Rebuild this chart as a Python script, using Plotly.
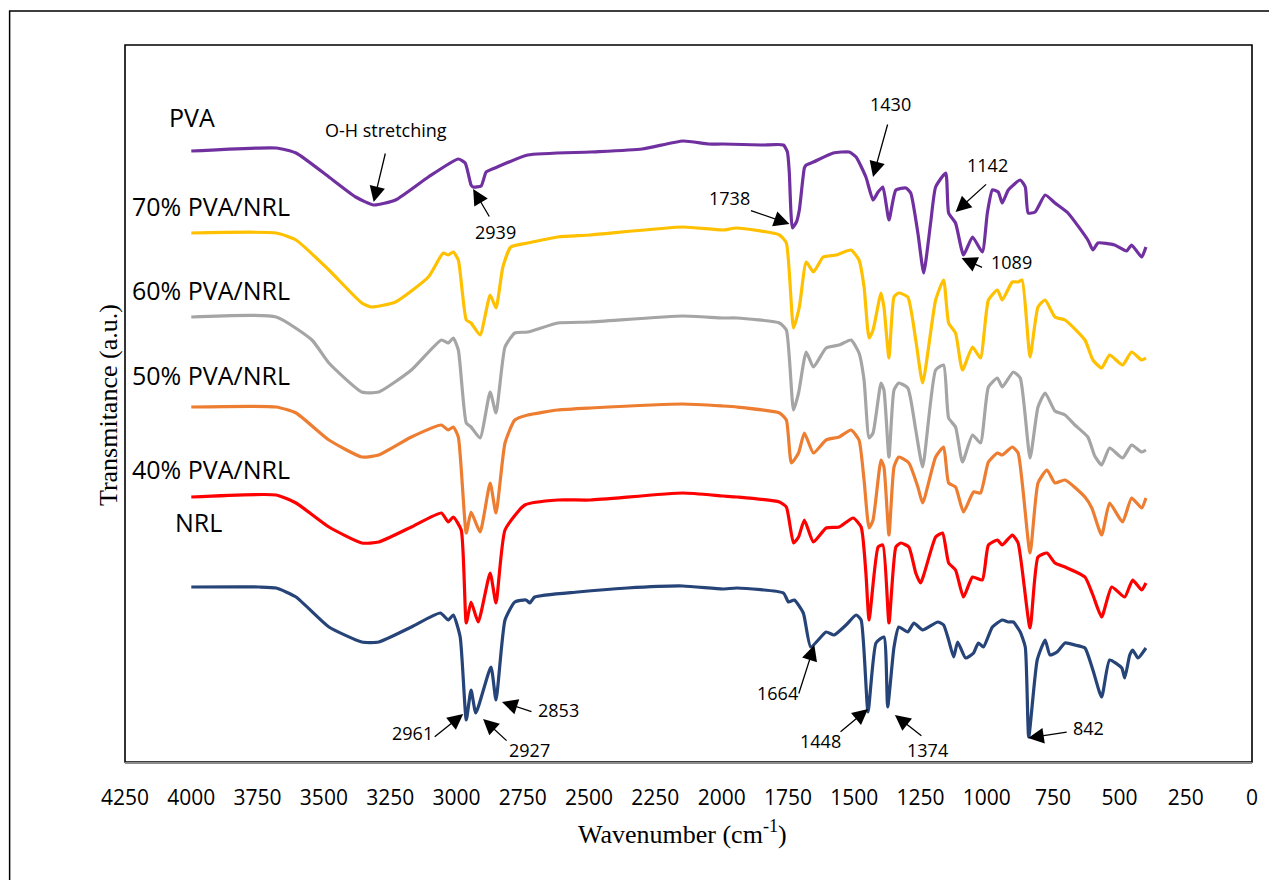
import plotly.graph_objects as go

# ---------------- data (wavenumber cm-1, transmittance a.u.) ----------------
pva_wn = [4000, 3680, 3605, 3481, 3380, 3312, 3230, 3106, 2993, 2967, 2945, 2937, 2907, 2888, 2855, 2731,
          2495, 2300, 2146, 2050, 1996, 1850, 1767, 1752, 1745, 1733, 1718, 1707, 1688, 1681, 1654, 1579,
          1519, 1493, 1456, 1429, 1410, 1392, 1369, 1343, 1305, 1287, 1260, 1238, 1212, 1193, 1155, 1144,
          1118, 1088, 1054, 1017, 998, 979, 957, 942, 919, 874, 855, 844, 818, 780, 743, 694, 619, 600,
          581, 518, 473, 454, 416, 400]
pva_t = [611, 614, 609, 585, 565, 557, 562, 585, 603, 599, 577, 575, 576, 590, 594, 607,
         610, 613, 621, 618, 618, 617, 617, 610, 590, 534, 540, 552, 594, 597, 600, 609,
         610, 605, 585, 562, 570, 575, 542, 572, 574, 569, 529, 489, 539, 575, 589, 549,
         539, 507, 525, 510, 549, 572, 570, 559, 572, 582, 575, 549, 550, 567, 559, 549, 522, 512,
         519, 517, 511, 517, 505, 515]

pvanrl70_wn = [4000, 3680, 3605, 3481, 3357, 3320, 3230, 3106, 3050, 3031, 3012, 2993, 2963, 2945, 2911,
               2873, 2851, 2825, 2795, 2731, 2618, 2495, 2146, 1996, 1943, 1782, 1756, 1729, 1707, 1681,
               1654, 1617, 1568, 1512, 1482, 1463, 1444, 1429, 1399, 1388, 1369, 1350, 1332, 1298, 1268,
               1242, 1193, 1163, 1144, 1118, 1092, 1054, 1024, 994, 960, 942, 904, 882, 867, 837, 807,
               780, 743, 705, 630, 600, 567, 537, 488, 454, 416, 400]
pvanrl70_t = [529, 529, 522, 492, 459, 455, 460, 485, 509, 507, 510, 502, 442, 439, 427,
              467, 454, 495, 515, 519, 525, 527, 535, 532, 534, 527, 519, 434, 455, 500,
              490, 505, 507, 512, 502, 475, 424, 432, 469, 455, 404, 465, 469, 465, 422,
              379, 462, 482, 439, 429, 392, 415, 404, 462, 472, 462, 480, 480, 482, 405, 455,
              462, 445, 442, 422, 402, 394, 407, 397, 410, 402, 404]

pvanrl60_wn = [4000, 3680, 3545, 3481, 3357, 3293, 3170, 3057, 3031, 3012, 2993, 2963, 2945, 2911, 2873,
               2851, 2817, 2780, 2731, 2618, 2495, 2146, 1996, 1943, 1782, 1756, 1729, 1710, 1681, 1654,
               1606, 1557, 1512, 1482, 1463, 1444, 1429, 1399, 1388, 1369, 1350, 1332, 1298, 1268, 1242,
               1193, 1163, 1144, 1118, 1092, 1054, 1024, 994, 960, 942, 900, 874, 837, 807, 780, 743,
               705, 668, 619, 593, 567, 537, 488, 454, 416, 400]
pvanrl60_t = [445, 445, 422, 399, 370, 370, 392, 422, 419, 424, 412, 339, 335, 324, 370,
              349, 415, 429, 430, 439, 440, 446, 444, 444, 439, 432, 352, 369, 410, 395,
              414, 417, 422, 409, 382, 324, 329, 379, 372, 305, 372, 379, 374, 332, 295,
              392, 397, 344, 335, 300, 327, 319, 375, 384, 375, 390, 384, 304, 355, 369, 351,
              347, 337, 325, 306, 297, 314, 304, 317, 310, 312]

pvanrl50_wn = [4000, 3680, 3605, 3481, 3357, 3293, 3170, 3057, 3031, 3012, 2993, 2963, 2945, 2911, 2873,
               2851, 2817, 2780, 2731, 2618, 2495, 2146, 1996, 1943, 1782, 1756, 1737, 1710, 1688, 1654,
               1606, 1557, 1512, 1482, 1463, 1444, 1429, 1399, 1388, 1369, 1350, 1332, 1294, 1260, 1242,
               1193, 1163, 1144, 1118, 1088, 1050, 1024, 994, 960, 942, 904, 882, 837, 807, 773, 743,
               705, 630, 604, 567, 537, 488, 454, 416, 400]
pvanrl50_t = [355, 355, 349, 322, 305, 307, 325, 337, 332, 335, 325, 229, 250, 230, 279,
              249, 319, 342, 347, 352, 354, 358, 356, 355, 349, 342, 299, 309, 329, 309,
              322, 325, 332, 322, 282, 234, 242, 302, 295, 227, 295, 305, 299, 275, 259,
              305, 315, 279, 275, 250, 270, 269, 300, 309, 307, 315, 309, 209, 279, 292, 279,
              282, 265, 254, 227, 259, 240, 264, 254, 264]

pvanrl40_wn = [4000, 3680, 3605, 3481, 3357, 3293, 3170, 3057, 3031, 3012, 2982, 2963, 2945, 2918, 2873,
               2851, 2817, 2742, 2618, 2495, 2146, 1996, 1943, 1782, 1756, 1729, 1710, 1688, 1654, 1606,
               1557, 1504, 1474, 1456, 1444, 1410, 1392, 1369, 1343, 1324, 1294, 1268, 1250, 1193, 1167,
               1144, 1118, 1088, 1054, 1017, 994, 960, 942, 904, 882, 837, 807, 773, 743, 705, 630,
               600, 567, 529, 480, 450, 416, 400]
pvanrl40_t = [265, 267, 259, 235, 219, 220, 235, 249, 240, 245, 232, 139, 160, 140, 189,
              159, 232, 257, 262, 262, 269, 266, 265, 260, 255, 219, 225, 242, 220, 234,
              235, 244, 235, 189, 142, 215, 217, 139, 215, 219, 215, 189, 179, 225, 229,
              199, 192, 165, 185, 182, 217, 222, 217, 227, 219, 134, 205, 209, 199, 195, 185,
              167, 145, 175, 165, 182, 172, 179]

nrl_wn = [4000, 3744, 3680, 3605, 3481, 3357, 3293, 3170, 3061, 3031, 3012, 2986, 2963, 2945, 2927,
          2870, 2851, 2817, 2780, 2738, 2723, 2705, 2543, 2356, 2146, 1996, 1943, 1767, 1748, 1726,
          1692, 1664, 1606, 1576, 1531, 1493, 1474, 1448, 1418, 1388, 1374, 1350, 1332, 1298, 1275,
          1242, 1185, 1163, 1144, 1125, 1110, 1080, 1050, 1032, 1013, 979, 942, 919, 900, 874, 855,
          842, 810, 780, 762, 735, 705, 668, 630, 600, 567, 537, 491, 480, 461, 450, 430, 400]
nrl_t = [175, 175, 174, 165, 135, 120, 120, 135, 149, 142, 147, 125, 42, 72, 49,
         95, 62, 142, 160, 162, 159, 165, 170, 174, 176, 173, 174, 169, 160, 162,
         149, 115, 130, 127, 137, 147, 142, 50, 119, 125, 55, 115, 135, 130, 139,
         132, 140, 137, 122, 105, 120, 104, 109, 119, 115, 135, 142, 140, 140, 130, 115,
         25, 102, 122, 107, 110, 119, 117, 114, 92, 65, 102, 94, 84, 107, 112, 104, 114]

series_names = ["PVA", "70% PVA/NRL", "60% PVA/NRL", "50% PVA/NRL", "40% PVA/NRL", "NRL"]
series_colors = ["#7030A0", "#FFC000", "#A5A5A5", "#ED7D31", "#FF0000", "#264478"]
series_data = [(pva_wn, pva_t), (pvanrl70_wn, pvanrl70_t), (pvanrl60_wn, pvanrl60_t),
               (pvanrl50_wn, pvanrl50_t), (pvanrl40_wn, pvanrl40_t), (nrl_wn, nrl_t)]

x_ticks = list(range(0, 4251, 250))

peak_labels = ["O-H stretching", "2939", "1738", "1430", "1142", "1089",
               "2961", "2927", "2853", "1664", "1448", "1374", "842"]

# ---------------- layout helpers (page-pixel geometry) ----------------
OFF = 8                      # page body margin
PAGE_W, PAGE_H = 1277, 888
W, H = PAGE_W - 2 * OFF, PAGE_H - 2 * OFF
L, R, T, B = 125, 1258, 45, 762   # plot-area edges in page pixels
XMAX = 4250
YMAX = B - T


def px2x(px):
    return XMAX - (px - L) / (R - L) * XMAX


def py2y(py):
    return B - py


def pxp(px):
    return (px - L) / (R - L)


def pyp(py):
    return (B - py) / (B - T)


fig = go.Figure()
for name, col, (wn, tt) in zip(series_names, series_colors, series_data):
    fig.add_trace(go.Scatter(x=wn, y=tt, mode="lines", name=name,
                             line=dict(color=col, width=3.2, shape="spline", smoothing=0.5),
                             showlegend=False, hoverinfo="skip"))

annotations = []
label_pos = [(167, 117), (130, 206), (130, 290), (130, 375), (130, 469), (173, 522)]
for name, (lx, ly) in zip(series_names, label_pos):
    annotations.append(dict(x=pxp(lx), y=pyp(ly), xref="paper", yref="paper", text=name,
                            showarrow=False, xanchor="left", yanchor="middle",
                            font=dict(family="Open Sans", size=25, color="black")))

text_pos = [(387, 130), (497, 232), (733, 198), (895, 104), (992, 165), (1016, 262),
            (414, 733), (532, 750), (561, 710), (781, 693), (824, 741), (932, 750), (1094, 728)]
arrows = [((387, 152), (375, 202)), ((492, 218), (475, 189)), ((753, 210), (793, 224)),
          ((892, 123), (877, 177)), ((992, 183), (960, 212)), ((988, 268), (966, 258)),
          ((435, 738), (465, 714)), ((510, 742), (485, 719)), ((535, 712), (504, 702)),
          ((802, 695), (818, 645)), ((843, 733), (872, 709)), ((927, 737), (899, 715)),
          ((1073, 732), (1033, 738))]
for lab, (tx, ty), ((ax0, ay0), (hx, hy)) in zip(peak_labels, text_pos, arrows):
    annotations.append(dict(x=px2x(tx), y=py2y(ty), xref="x", yref="y", text=lab,
                            showarrow=False, xanchor="center", yanchor="middle",
                            font=dict(family="Open Sans", size=18, color="black")))
    annotations.append(dict(x=px2x(hx), y=py2y(hy), xref="x", yref="y", text="",
                            showarrow=True, ax=ax0 - hx, ay=ay0 - hy, axref="pixel", ayref="pixel",
                            arrowhead=2, arrowsize=2.4, arrowwidth=1.3, arrowcolor="black", standoff=0))

annotations.append(dict(x=pxp(685), y=pyp(832), xref="paper", yref="paper",
                        xanchor="center", yanchor="middle",
                        text="Wavenumber (cm<sup>-1</sup>)", showarrow=False,
                        font=dict(family="Liberation Serif", size=26, color="black")))
annotations.append(dict(x=pxp(108), y=pyp(405), xref="paper", yref="paper",
                        xanchor="center", yanchor="middle",
                        text="Transmitance (a.u.)", showarrow=False, textangle=-90,
                        font=dict(family="Liberation Serif", size=26, color="black")))

shapes = [
    dict(type="rect", xref="paper", yref="paper", x0=0, x1=1, y0=0, y1=1,
         line=dict(color="black", width=1.6), layer="below"),
    dict(type="rect", xref="paper", yref="paper", x0=pxp(9), x1=pxp(1300), y0=pyp(920), y1=pyp(11),
         line=dict(color="black", width=1.5), layer="below"),
]

fig.update_layout(
    width=W, height=H,
    margin=dict(l=L - OFF, r=(PAGE_W - OFF) - R, t=T - OFF, b=(PAGE_H - OFF) - B),
    paper_bgcolor="white", plot_bgcolor="white",
    annotations=annotations, shapes=shapes,
    xaxis=dict(range=[XMAX, 0], tickvals=x_ticks, ticktext=[str(v) for v in x_ticks],
               showgrid=False, zeroline=False, showline=True, linecolor="#8c8c8c", linewidth=2,
               ticks="outside", ticklen=16, tickcolor="rgba(0,0,0,0)",
               tickfont=dict(family="Open Sans", size=21, color="black")),
    yaxis=dict(range=[0, YMAX], showgrid=False, zeroline=False, showticklabels=False,
               showline=False, ticks=""),
)

fig.write_html("out.html")
